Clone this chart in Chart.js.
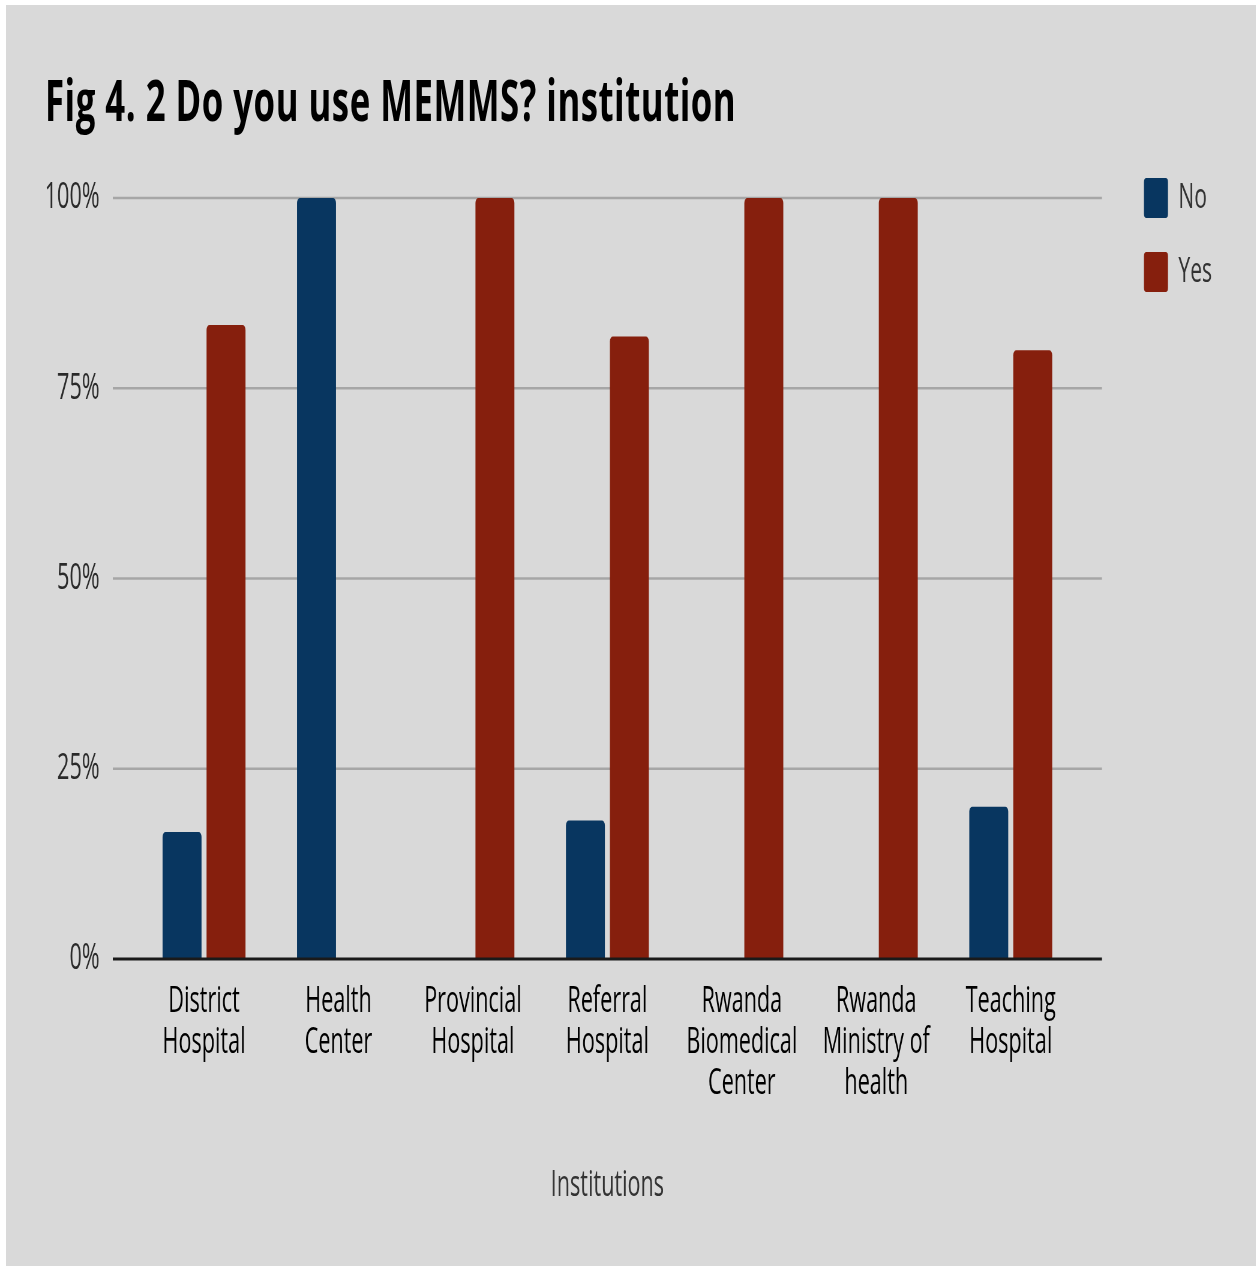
<!DOCTYPE html>
<html>
<head>
<meta charset="utf-8">
<script src="https://cdn.jsdelivr.net/npm/chart.js@4.4.1/dist/chart.umd.min.js"></script>
<style>
  html, body { margin: 0; padding: 0; background: #fff; overflow: hidden; }
  #frame { position: absolute; left: 6px; top: 5px; width: 1250px; height: 1261px; background: #d9d9d9; overflow: hidden; }
  /* the reference is horizontally squeezed, so draw wide and scale down */
  #inner { position: absolute; left: 0; top: 0; width: 2083px; height: 1261px; transform: scaleX(0.6); transform-origin: 0 0; }
  #title { position: absolute; left: 65px; top: 65px; margin: 0; font: bold 58px/58px "Open Sans", sans-serif; letter-spacing: 0.8px; color: #000; white-space: nowrap; }
  #wrap { position: absolute; left: 0; top: 0; width: 2083px; height: 1261px; }
</style>
</head>
<body>
<div id="frame">
  <div id="inner">
    <h1 id="title">Fig 4. 2 Do you use MEMMS? institution</h1>
    <div id="wrap"><canvas id="chart"></canvas></div>
  </div>
</div>
<script>
const categories = [
  ['District', 'Hospital'],
  ['Health', 'Center'],
  ['Provincial', 'Hospital'],
  ['Referral', 'Hospital'],
  ['Rwanda', 'Biomedical', 'Center'],
  ['Rwanda', 'Ministry of', 'health'],
  ['Teaching', 'Hospital']
];
const noValues = [16.7, 100, 0, 18.2, 0, 0, 20];
const yesValues = [83.3, 0, 100, 81.8, 100, 100, 80];
const yTicks = [0, 25, 50, 75, 100];

Chart.defaults.font.family = '"Open Sans", sans-serif';

// gridlines and baseline run a little past the plot on both sides
const extGrid = {
  id: 'extGrid',
  beforeDatasetsDraw(chart) {
    const { ctx, chartArea, scales: { y } } = chart;
    ctx.save();
    ctx.strokeStyle = '#a6a6a6';
    ctx.lineWidth = 2.5;
    yTicks.forEach(v => {
      if (v === 0) return;
      const py = y.getPixelForValue(v);
      ctx.beginPath();
      ctx.moveTo(chartArea.left - 40, py);
      ctx.lineTo(chartArea.right + 40, py);
      ctx.stroke();
    });
    ctx.restore();
  },
  afterDatasetsDraw(chart) {
    const { ctx, chartArea, scales: { y } } = chart;
    const py = y.getPixelForValue(0);
    ctx.save();
    ctx.strokeStyle = '#1a1a1a';
    ctx.lineWidth = 3;
    ctx.beginPath();
    ctx.moveTo(chartArea.left - 40, py);
    ctx.lineTo(chartArea.right + 40, py);
    ctx.stroke();
    ctx.restore();
  }
};

const radius = { topLeft: 5, topRight: 5, bottomLeft: 0, bottomRight: 0 };

new Chart(document.getElementById('chart'), {
  type: 'bar',
  data: {
    labels: categories,
    datasets: [
      { label: 'No', data: noValues, backgroundColor: '#083660', borderRadius: radius, borderSkipped: false, xAxisID: 'x', yAxisID: 'y' },
      { label: 'Yes', data: yesValues, backgroundColor: '#861f0d', borderRadius: radius, borderSkipped: false, xAxisID: 'x', yAxisID: 'y' }
    ]
  },
  options: {
    responsive: true,
    maintainAspectRatio: false,
    animation: false,
    categoryPercentage: 0.654,
    barPercentage: 0.886,
    layout: { padding: { top: 139, left: 18, right: 63, bottom: 47 } },
    plugins: {
      tooltip: { enabled: false },
      legend: {
        position: 'right',
        align: 'start',
        labels: {
          boxWidth: 40,
          boxHeight: 40,
          padding: 34,
          color: '#333',
          font: { size: 35 },
          useBorderRadius: true,
          borderRadius: 4
        }
      }
    },
    scales: {
      x: {
        grid: { display: false, drawTicks: false },
        border: { display: false },
        ticks: { color: '#000', font: { size: 36, lineHeight: 1.14 }, padding: 22, maxRotation: 0, autoSkip: false },
        title: { display: true, text: 'Institutions', color: '#333', font: { size: 36 }, padding: { top: 0, bottom: 12 } },
        afterFit(s) { s.height = 260; }
      },
      y: {
        min: 0,
        max: 100,
        grid: { display: false, drawTicks: false },
        border: { display: false },
        ticks: { stepSize: 25, color: '#2a2a2a', font: { size: 36 }, padding: 62, callback: v => v + '%' },
        afterFit(s) { s.width = 200; }
      },
      xTop: {
        type: 'linear', axis: 'x', position: 'top',
        grid: { display: false }, border: { display: false }, ticks: { display: false },
        afterFit(s) { s.height = 54; }
      },
      yRight: {
        type: 'linear', axis: 'y', position: 'right',
        grid: { display: false }, border: { display: false }, ticks: { display: false },
        afterFit(s) { s.width = 76; }
      }
    }
  },
  plugins: [extGrid]
});
</script>
</body>
</html>
